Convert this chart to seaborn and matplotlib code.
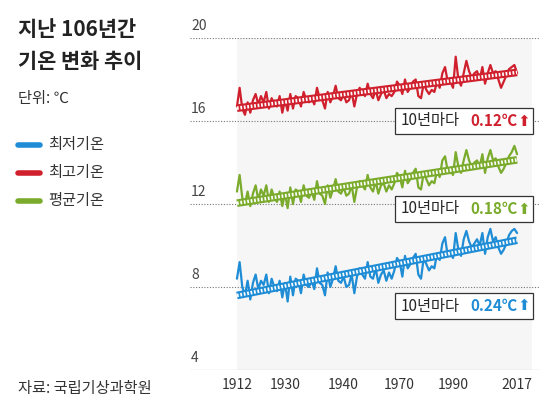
import numpy as np
import pandas as pd
import matplotlib
matplotlib.use("Agg")
import matplotlib.pyplot as plt
import seaborn as sns

years = list(range(1912, 2018))
tmin = [8.4, 9.2, 8.0, 7.6, 8.3, 7.4, 8.2, 8.6, 7.9, 8.3,
        8.1, 8.6, 7.7, 8.4, 8.0, 7.8, 8.3, 7.5, 8.2, 7.3,
        8.5, 7.6, 8.4, 8.3, 7.7, 8.6, 8.1, 8.0, 8.3, 7.9,
        8.9, 8.2, 8.1, 7.6, 8.7, 8.0, 8.4, 9.0, 8.3, 8.2,
        8.5, 8.0, 8.1, 8.6, 7.7, 8.5, 8.9, 8.6, 8.4, 9.2,
        8.5, 8.4, 8.9, 8.2, 8.6, 8.8, 8.3, 8.7, 8.4, 8.8,
        9.4, 9.2, 8.5, 9.5, 8.9, 9.1, 9.4, 9.6, 8.6, 8.4,
        9.4, 9.1, 8.8, 9.0, 8.9, 9.6, 9.3, 10.1, 10.4, 9.5,
        9.6, 9.4, 10.6, 9.8, 9.5, 10.3, 10.7, 10.2, 9.9, 10.1,
        10.3, 10.0, 10.6, 9.6, 10.4, 10.8, 10.2, 10.4, 9.9, 9.6,
        9.8, 10.1, 10.5, 10.7, 10.8, 10.6]
tmean = [12.6, 13.4, 12.3, 12.0, 12.6, 11.9, 12.5, 12.9, 12.2, 12.7,
         12.4, 12.9, 12.1, 12.7, 12.3, 12.1, 12.6, 11.9, 12.5, 11.8,
         12.8, 12.0, 12.7, 12.6, 12.1, 12.9, 12.4, 12.3, 12.6, 12.2,
         13.1, 12.5, 12.4, 12.0, 12.9, 12.3, 12.7, 13.2, 12.6, 12.5,
         12.8, 12.4, 12.5, 12.9, 12.1, 12.8, 13.1, 12.9, 12.7, 13.4,
         12.8, 12.6, 13.1, 12.5, 12.9, 13.0, 12.6, 12.9, 12.7, 13.0,
         13.5, 13.3, 12.8, 13.6, 13.0, 13.2, 13.5, 13.7, 12.8, 12.7,
         13.5, 13.2, 12.9, 13.1, 13.0, 13.6, 13.3, 14.1, 14.3, 13.6,
         13.6, 13.4, 14.5, 13.8, 13.5, 14.1, 14.6, 14.1, 13.8, 14.0,
         14.1, 13.8, 14.4, 13.5, 14.2, 14.6, 14.1, 14.2, 13.8, 13.5,
         13.7, 14.0, 14.3, 14.5, 14.8, 14.4]
tmax = [16.7, 17.6, 16.6, 16.3, 16.9, 16.4, 17.0, 17.3, 16.8, 17.2,
        16.9, 17.4, 16.6, 17.1, 16.8, 16.7, 17.2, 16.4, 17.0, 16.5,
        17.3, 16.6, 17.2, 17.1, 16.7, 17.4, 17.0, 16.9, 17.1, 16.8,
        17.6, 17.1, 17.0, 16.6, 17.4, 16.9, 17.2, 17.7, 17.1, 17.0,
        17.3, 16.9, 17.0, 17.4, 16.7, 17.3, 17.6, 17.4, 17.2, 17.8,
        17.3, 17.1, 17.5, 17.0, 17.3, 17.5, 17.1, 17.3, 17.2, 17.4,
        17.9, 17.7, 17.3, 18.0, 17.4, 17.6, 17.9, 18.0, 17.2, 17.1,
        17.8, 17.5, 17.3, 17.5, 17.4, 17.9, 17.6, 18.3, 18.6, 17.9,
        17.9, 17.6, 19.1, 18.0, 17.7, 18.3, 18.9, 18.4, 18.1, 18.3,
        18.4, 18.0, 18.6, 17.8, 18.3, 18.7, 18.3, 18.4, 18.0, 17.6,
        17.9, 18.2, 18.5, 18.6, 18.7, 18.3]
tick_years = [1912, 1930, 1952, 1973, 1993, 2017]
tick_labels = ["1912", "1930", "1940", "1970", "1990", "2017"]
y_ticks = [4, 8, 12, 16, 20]
rates = ["0.12℃", "0.18℃", "0.24℃"]

sns.set_style("white")
plt.rcParams['font.family'] = ['Noto Sans CJK KR', 'DejaVu Sans']

blue, red, green = "#1f8dd6", "#d0202e", "#7aab2c"
fig = plt.figure(figsize=(5.59, 4.17), dpi=100)
ax = fig.add_axes([190/559, 1-370/417, 350/559, 332/417])
ax.set_xlim(1894.4, 2025.6)
ax.set_ylim(4, 20)
ax.axvspan(1912, 2022.5, color="#f6f6f6", zorder=0, lw=0)
for v in y_ticks:
    ax.axhline(v, color="#777777", lw=0.8, ls=(0, (1, 1.5)) if v != 4 else "-", zorder=1)
    ax.text(1894.8, v + 0.25, str(v), fontsize=10, color="#444444", ha="left", va="bottom")
for s in ax.spines.values():
    s.set_visible(False)
ax.set_yticks([])
ax.set_xticks(tick_years)
ax.set_xticklabels(tick_labels, fontsize=10, color="#333333")
ax.tick_params(axis="x", length=0, pad=6)

df = pd.DataFrame({"year": years, "min": tmin, "mean": tmean, "max": tmax})
yr = np.array(years)
for col, c in [("max", red), ("mean", green), ("min", blue)]:
    sns.lineplot(data=df, x="year", y=col, color=c, lw=1.6, ax=ax, zorder=3)
    p = np.polyfit(yr, df[col].values, 1)
    xs = np.array([1912, 2017])
    ax.plot(xs, np.polyval(p, xs), color=c, lw=5.5, zorder=4, solid_capstyle="butt")
    ax.plot(xs, np.polyval(p, xs), color="white", lw=2.5, ls=(0, (0.5, 0.5)), zorder=5)
ax.set_xlabel(""); ax.set_ylabel("")

for (ypx, rate, c) in [(121, rates[0], red), (209, rates[1], green), (306, rates[2], blue)]:
    fig.patches.append(plt.Rectangle((395/559, 1-(ypx+13)/417), 138/559, 26/417,
                                     transform=fig.transFigure, facecolor="white",
                                     edgecolor="#333333", lw=0.9, zorder=6))
    fig.text(401/559, 1-ypx/417, "10년마다", fontsize=11, va="center", ha="left", zorder=7)
    fig.text(470/559, 1-ypx/417, rate, fontsize=11, va="center", ha="left",
             color=c, fontweight="bold", zorder=7)
    fig.text(524/559, 1-ypx/417, "⬆", fontsize=11, va="center", ha="center",
             color=c, zorder=7, family=["DejaVu Sans"])

fig.text(18/559, 1-30/417, "지난 106년간", fontsize=15, fontweight="bold", color="#222222", va="center")
fig.text(18/559, 1-62/417, "기온 변화 추이", fontsize=15, fontweight="bold", color="#222222", va="center")
fig.text(18/559, 1-98/417, "단위: ℃", fontsize=11, color="#333333", va="center")
for ypx, lab, c in [(145, "최저기온", blue), (173, "최고기온", red), (201, "평균기온", green)]:
    fig.add_artist(plt.Line2D([18/559, 40/559], [1-ypx/417]*2, color=c, lw=4,
                              transform=fig.transFigure, solid_capstyle="round"))
    fig.text(48/559, 1-ypx/417, lab, fontsize=11, color="#333333", va="center")
fig.text(18/559, 1-388/417, "자료: 국립기상과학원", fontsize=11, color="#333333", va="center")

fig.savefig("out.png", dpi=100, facecolor="white")
